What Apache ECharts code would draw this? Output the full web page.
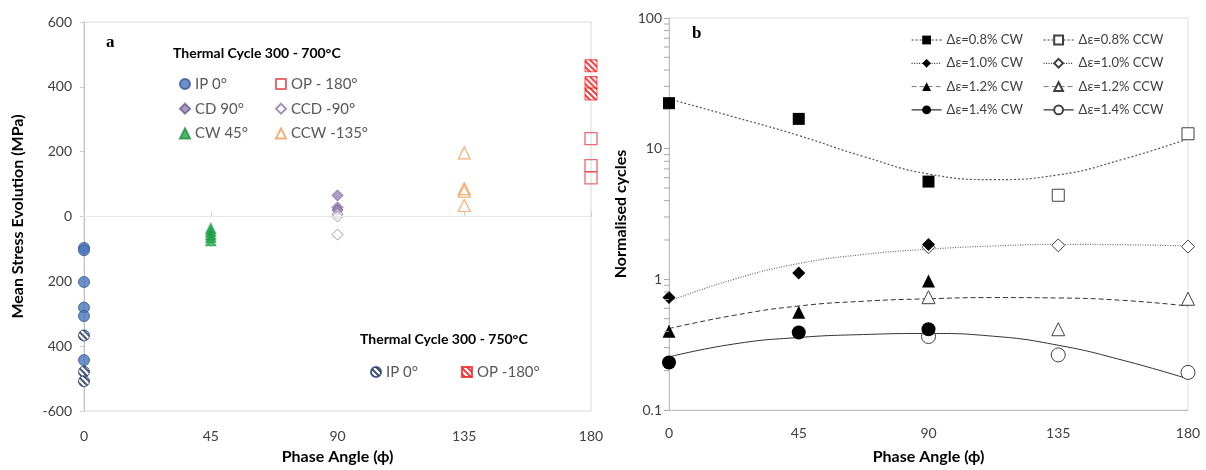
<!DOCTYPE html>
<html><head><meta charset="utf-8">
<script src="https://cdn.jsdelivr.net/npm/echarts@6/dist/echarts.min.js"></script>
<style>html,body{margin:0;padding:0;background:#fff}#c{width:1206px;height:470px}</style>
</head><body><div id="c"></div>
<script>
// ---------------- data (panel a) ----------------
const phaseTicks = [0, 45, 90, 135, 180];
const stressTickValues = [-600, -400, -200, 0, 200, 400, 600];
const stressTickLabels = ['-600', '400', '200', '0', '200', '400', '600'];
const phaseIP = 0, phaseCW = 45, phaseCD = 90, phaseCCW = 135, phaseOP = 180;
const ip0 = [-97, -104, -202, -281, -307, -443];
const ip0Hot = [-367, -479, -508];
const cw45 = [-36, -45, -55, -63, -74];
const cd90 = [65, 28, 20];
const ccd90 = [8, 0, -56];
const ccw135 = [196, 86, 78, 34];
const op180 = [240, 157, 119];
const op180Hot = [465, 413, 378];

// ---------------- data (panel b) ----------------
const cyclesTickLabels = ['0.1', '1', '10', '100'];
const cyclesMinorTicks = [0.2, 0.3, 0.4, 0.5, 0.6, 0.7, 0.8, 0.9, 2, 3, 4, 5, 6, 7, 8, 9, 20, 30, 40, 50, 60, 70, 80, 90];
const cwPhases = [0, 45, 90];
const ccwPhases = [90, 135, 180];
const ccwPhases08 = [135, 180];
const cw08 = [22.3, 16.9, 5.6];
const ccw08 = [4.4, 13.0];
const cw10 = [0.725, 1.12, 1.85];
const ccw10 = [1.76, 1.82, 1.78];
const cw12 = [0.40, 0.56, 0.97];
const ccw12 = [0.73, 0.415, 0.71];
const cw14 = [0.231, 0.392, 0.415];
const ccw14 = [0.365, 0.264, 0.194];
const trendPhases = [0, 22.5, 45, 67.5, 90, 112.5, 135, 157.5, 180];
const trend08 = [24.0, 17.5, 12.6, 8.7, 6.4, 5.8, 6.3, 8.3, 11.9];
const trend10 = [0.68, 1.0, 1.32, 1.55, 1.70, 1.80, 1.85, 1.84, 1.80];
const trend12 = [0.42, 0.53, 0.625, 0.68, 0.71, 0.725, 0.72, 0.69, 0.625];
const trend14 = [0.255, 0.32, 0.359, 0.378, 0.385, 0.367, 0.313, 0.24, 0.173];

// ---------------- helpers ----------------
function hatch(fg, scale) {
  const n = 6, c = document.createElement('canvas');
  c.width = n; c.height = n;
  const g = c.getContext('2d');
  g.fillStyle = '#ffffff'; g.fillRect(0, 0, n, n);
  g.fillStyle = fg;
  for (let i = 0; i < n; i++) for (let k = 0; k < 3; k++) g.fillRect(i, (i + k) % n, 1, 1);
  const p = { image: c, repeat: 'repeat' };
  if (scale) { p.scaleX = scale; p.scaleY = scale; }
  return p;
}
const at = (x, arr) => arr.map(v => [x, v]);
const zip = (xs, ys) => xs.map((x, i) => [x, ys[i]]);
const FONT = 'Lato';

const lsTrend08 = { color: '#555555', width: 1.2, type: [2, 2] };
const lsTrend10 = { color: '#6a6a6a', width: 1.2, type: [1, 1.5] };
const lsTrend12 = { color: '#333333', width: 1, type: [5, 3] };
const lsTrend14 = { color: '#333333', width: 1, type: 'solid' };

const filledB = { color: '#000000' };
const openB = { color: '#ffffff', borderColor: '#404040', borderWidth: 1 };

function markerSeries(name, data, symbol, size, style, z) {
  return {
    name, type: 'line', xAxisIndex: 1, yAxisIndex: 1, data,
    symbol, symbolSize: size, showSymbol: true, showAllSymbol: true,
    lineStyle: { opacity: 0, width: 1 }, itemStyle: style, z: z, silent: true
  };
}
function trendSeries(data, ls) {
  return {
    name: '_trend', type: 'line', xAxisIndex: 1, yAxisIndex: 1, data,
    smooth: true, symbol: 'none', lineStyle: ls, z: 3, silent: true
  };
}

const legTextA = { fontFamily: FONT, fontSize: 15, color: '#595959', lineHeight: 18 };
const legTextB = { fontFamily: FONT, fontSize: 13, color: '#404040', lineHeight: 14 };
const labelMap = {};
stressTickValues.forEach((v, i) => labelMap[v] = stressTickLabels[i]);

const option = {
  backgroundColor: '#ffffff',
  animation: false,
  grid: [
    { left: 84, right: 615, top: 22, bottom: 59, show: true, borderColor: '#d9d9d9', borderWidth: 1 },
    { left: 669, right: 18, top: 18, bottom: 59, show: true, borderColor: '#dcdcdc', borderWidth: 1 }
  ],
  xAxis: [
    {
      gridIndex: 0, type: 'value', min: phaseTicks[0], max: phaseTicks[phaseTicks.length - 1], interval: 45,
      name: 'Phase Angle (ϕ)', nameLocation: 'middle', nameGap: 38,
      nameTextStyle: { fontFamily: FONT, fontSize: 16, fontWeight: 'bold', color: '#000' },
      axisLine: { lineStyle: { color: '#bfbfbf' } },
      axisTick: { inside: true, length: 5, lineStyle: { color: '#d0d0d0' } },
      axisLabel: { fontFamily: FONT, fontSize: 14, color: '#404040', margin: 18 },
      splitLine: { show: false }
    },
    {
      gridIndex: 1, type: 'value', min: phaseTicks[0], max: phaseTicks[phaseTicks.length - 1], interval: 45,
      name: 'Phase Angle (ϕ)', nameLocation: 'middle', nameGap: 39,
      nameTextStyle: { fontFamily: FONT, fontSize: 16, fontWeight: 'bold', color: '#000' },
      axisLine: { lineStyle: { color: '#bfbfbf' } },
      axisTick: { show: false },
      axisLabel: { fontFamily: FONT, fontSize: 14, color: '#404040', margin: 16 },
      splitLine: { show: false }
    }
  ],
  yAxis: [
    {
      gridIndex: 0, type: 'value', min: -600, max: 600, interval: 200,
      name: 'Mean Stress Evolution (MPa)', nameLocation: 'middle', nameGap: 58,
      nameTextStyle: { fontFamily: FONT, fontSize: 16, fontWeight: 'bold', color: '#000' },
      axisLine: { show: true, lineStyle: { color: '#bfbfbf' } },
      axisTick: { show: true, length: 4, lineStyle: { color: '#d0d0d0' } },
      axisLabel: { fontFamily: FONT, fontSize: 14, color: '#404040', margin: 12,
        formatter: v => labelMap[v] !== undefined ? labelMap[v] : '' },
      splitLine: { show: false }
    },
    {
      gridIndex: 1, type: 'log', logBase: 10, min: 0.1, max: 100,
      name: 'Normalised cycles', nameLocation: 'middle', nameGap: 40,
      nameTextStyle: { fontFamily: FONT, fontSize: 16, fontWeight: 'bold', color: '#000' },
      axisLine: { show: true, lineStyle: { color: '#bfbfbf' } },
      axisTick: { show: true, length: 5, lineStyle: { color: '#a6a6a6' } },
      minorTick: { show: false },
      axisLabel: { fontFamily: FONT, fontSize: 14, color: '#404040', margin: 7,
        formatter: v => { const i = Math.round(Math.log10(v)) + 1; return cyclesTickLabels[i] || ''; } },
      splitLine: { show: false }
    }
  ],
  legend: [
    { data: ['IP 0°', 'CD 90°', 'CW 45°'], orient: 'vertical', left: 174, top: 70, itemWidth: 10, itemHeight: 10, itemGap: 6.7, textStyle: legTextA, selectedMode: false },
    { data: ['OP - 180°', 'CCD -90°', 'CCW -135°'], orient: 'vertical', left: 270, top: 70, itemWidth: 10, itemHeight: 10, itemGap: 6.7, textStyle: legTextA, selectedMode: false },
    { data: [{ name: 'IP 0° (750)', itemStyle: { color: hatch('#203864') } }], left: 365, top: 358, itemWidth: 10, itemHeight: 10, textStyle: legTextA, selectedMode: false, formatter: n => 'IP 0°' },
    { data: [{ name: 'OP -180° (750)', itemStyle: { color: hatch('#ff1a1a') } }], left: 456, top: 358, itemWidth: 10, itemHeight: 10, textStyle: legTextA, selectedMode: false, formatter: n => 'OP -180°' },
    { data: [
        { name: 'Δε=0.8% CW', lineStyle: Object.assign({ opacity: 1 }, lsTrend08, { color: '#333' }) },
        { name: 'Δε=1.0% CW', lineStyle: Object.assign({ opacity: 1 }, lsTrend10, { color: '#333' }) },
        { name: 'Δε=1.2% CW', lineStyle: Object.assign({ opacity: 1 }, lsTrend12, { color: '#777' }) },
        { name: 'Δε=1.4% CW', lineStyle: Object.assign({ opacity: 1 }, lsTrend14, { color: '#000' }) }
      ], orient: 'vertical', left: 906, top: 28, itemWidth: 30, itemHeight: 11, itemGap: 9.3, textStyle: legTextB, selectedMode: false },
    { data: [
        { name: 'Δε=0.8% CCW', lineStyle: Object.assign({ opacity: 1 }, lsTrend08, { color: '#333' }) },
        { name: 'Δε=1.0% CCW', lineStyle: Object.assign({ opacity: 1 }, lsTrend10, { color: '#333' }) },
        { name: 'Δε=1.2% CCW', lineStyle: Object.assign({ opacity: 1 }, lsTrend12, { color: '#777' }) },
        { name: 'Δε=1.4% CCW', lineStyle: Object.assign({ opacity: 1 }, lsTrend14, { color: '#000' }) }
      ], orient: 'vertical', left: 1038, top: 28, itemWidth: 30, itemHeight: 11, itemGap: 9.3, textStyle: legTextB, selectedMode: false }
  ],
  graphic: [
    { type: 'text', left: 106, top: 34, style: { text: 'a', font: 'bold 17px "Liberation Serif"', fill: '#000' } },
    { type: 'text', left: 692, top: 25, style: { text: 'b', font: 'bold 17px "Liberation Serif"', fill: '#000' } },
    { type: 'text', left: 173, top: 46, style: { text: 'Thermal Cycle 300 - 700°C', font: 'bold 14px Lato', fill: '#000' } },
    { type: 'text', left: 360, top: 332, style: { text: 'Thermal Cycle 300 - 750°C', font: 'bold 14px Lato', fill: '#000' } }
  ],
  series: [
    { name: 'IP 0°', type: 'scatter', xAxisIndex: 0, yAxisIndex: 0, data: at(phaseIP, ip0), symbol: 'circle', symbolSize: 11,
      itemStyle: { color: '#4a76bd', borderColor: '#2f5597', borderWidth: 1 }, z: 4,
      markLine: { silent: true, symbol: 'none', label: { show: false }, data: [{ yAxis: 0 }],
        lineStyle: { color: '#e6e6e6', type: 'solid', width: 1 } } },
    { name: 'IP 0° (750)', type: 'scatter', xAxisIndex: 0, yAxisIndex: 0, data: at(phaseIP, ip0Hot), symbol: 'circle', symbolSize: 11,
      itemStyle: { color: hatch('#203864', 2 / 11), borderColor: '#203864', borderWidth: 1 }, z: 4 },
    { name: 'CW 45°', type: 'scatter', xAxisIndex: 0, yAxisIndex: 0, data: at(phaseCW, cw45), symbol: 'triangle', symbolSize: 11,
      itemStyle: { color: '#1fa84a', borderColor: '#1a8f3e', borderWidth: 0.5 }, z: 4 },
    { name: 'CD 90°', type: 'scatter', xAxisIndex: 0, yAxisIndex: 0, data: at(phaseCD, cd90), symbol: 'diamond', symbolSize: 11,
      itemStyle: { color: '#9883b5', borderColor: '#6f5a92', borderWidth: 1 }, z: 4 },
    { name: 'CCD -90°', type: 'scatter', xAxisIndex: 0, yAxisIndex: 0, data: at(phaseCD, ccd90), symbol: 'diamond', symbolSize: 11,
      itemStyle: { color: 'rgba(255,255,255,0.6)', borderColor: '#8a78a8', borderWidth: 1 }, z: 4 },
    { name: 'CCW -135°', type: 'scatter', xAxisIndex: 0, yAxisIndex: 0, data: at(phaseCCW, ccw135), symbol: 'triangle', symbolSize: 12,
      itemStyle: { color: 'rgba(255,255,255,0)', borderColor: '#f59a55', borderWidth: 1.2 }, z: 4 },
    { name: 'OP - 180°', type: 'scatter', xAxisIndex: 0, yAxisIndex: 0, data: at(phaseOP, op180), symbol: 'rect', symbolSize: 12,
      itemStyle: { color: 'rgba(255,255,255,0)', borderColor: '#e2474c', borderWidth: 1.3 }, z: 4 },
    { name: 'OP -180° (750)', type: 'scatter', xAxisIndex: 0, yAxisIndex: 0, data: at(phaseOP, op180Hot), symbol: 'rect', symbolSize: 12,
      itemStyle: { color: hatch('#ff1a1a', 2 / 12), borderColor: '#ff1a1a', borderWidth: 1 }, z: 4 },

    {
      name: '_minorTicks', type: 'custom', coordinateSystem: 'cartesian2d', xAxisIndex: 1, yAxisIndex: 1,
      silent: true, clip: false, z: 10,
      data: cyclesMinorTicks.map(v => [phaseTicks[0], v]),
      renderItem: (params, api) => {
        const p = api.coord([api.value(0), api.value(1)]);
        return { type: 'line', shape: { x1: p[0] - 5, y1: p[1], x2: p[0], y2: p[1] },
          style: { stroke: '#a6a6a6', lineWidth: 1 } };
      }
    },
    trendSeries(zip(trendPhases, trend08), lsTrend08),
    trendSeries(zip(trendPhases, trend10), lsTrend10),
    trendSeries(zip(trendPhases, trend12), lsTrend12),
    trendSeries(zip(trendPhases, trend14), lsTrend14),
    markerSeries('Δε=0.8% CW', zip(cwPhases, cw08), 'rect', 12, filledB, 6),
    markerSeries('Δε=0.8% CCW', zip(ccwPhases08, ccw08), 'rect', 12, openB, 5),
    markerSeries('Δε=1.0% CW', zip(cwPhases, cw10), 'diamond', 13, filledB, 6),
    markerSeries('Δε=1.0% CCW', zip(ccwPhases, ccw10), 'diamond', 13, openB, 5),
    markerSeries('Δε=1.2% CW', zip(cwPhases, cw12), 'triangle', 13, filledB, 6),
    markerSeries('Δε=1.2% CCW', zip(ccwPhases, ccw12), 'triangle', 13, openB, 5),
    markerSeries('Δε=1.4% CW', zip(cwPhases, cw14), 'circle', 14, filledB, 6),
    markerSeries('Δε=1.4% CCW', zip(ccwPhases, ccw14), 'circle', 14, openB, 5)
  ]
};
echarts.init(document.getElementById('c'), null, { renderer: 'canvas' }).setOption(option);
</script>
</body></html>
